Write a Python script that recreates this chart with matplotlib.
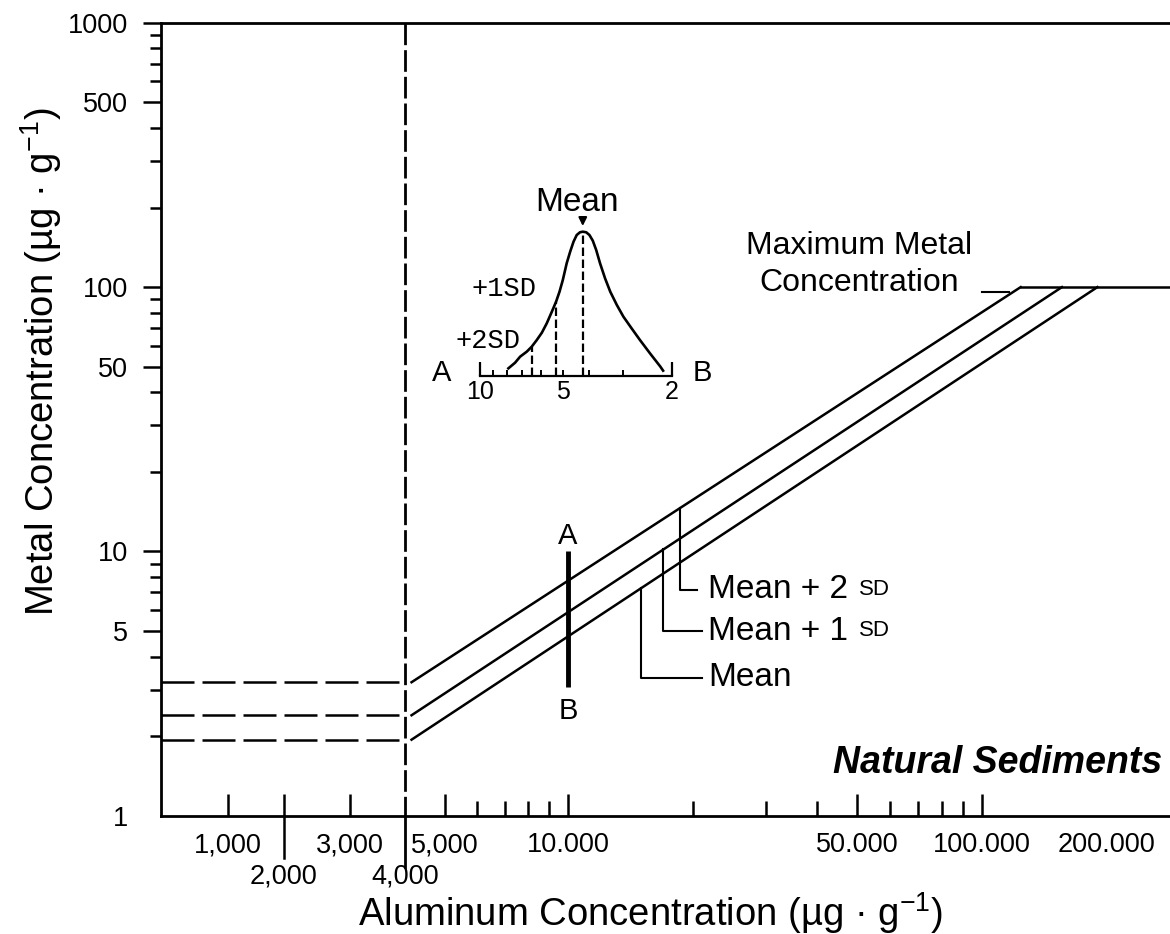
import numpy as np
import matplotlib.pyplot as plt
from matplotlib.ticker import NullFormatter

plt.rcParams['font.family'] = ['Liberation Sans', 'DejaVu Sans']
plt.rcParams['mathtext.fontset'] = 'custom'
plt.rcParams['mathtext.rm'] = 'Liberation Sans'
plt.rcParams['mathtext.it'] = 'Liberation Sans:italic'

# aluminium axis as it is drawn in the figure (log above 4,000, hand spaced below)
AXIS_AL = [100, 1000, 2000, 3000, 4000, 10000, 1000000]
AXIS_POS = [42, 228, 284, 350, 405, 568, 1396]

# tick values / labels
al_major = [1000, 2000, 3000, 4000, 5000, 10000, 50000, 100000, 200000]
al_labels = ['1,000', '2,000', '3,000', '4,000', '5,000', '10.000', '50.000', '100.000', '200.000']
al_minor = [6000, 7000, 8000, 9000, 20000, 30000, 40000, 60000, 70000, 80000, 90000]
metal_major = [1, 5, 10, 50, 100, 500, 1000]
metal_labels = ['1', '5', '10', '50', '100', '500', '1000']
metal_minor = [2, 3, 4, 6, 7, 8, 9, 20, 30, 40, 60, 70, 80, 90, 200, 300, 400, 600, 700, 800, 900]

# regression lines: start at the 4,000 cut-off, end at the maximum metal concentration
mean_al = [4150, 190000]
mean_metal = [1.94, 100]
sd1_al = [4150, 156000]
sd1_metal = [2.4, 100]
sd2_al = [4150, 124000]
sd2_metal = [3.2, 100]

cutoff_al = 4000
background_metal = [1.94, 2.4, 3.2]
ceiling_metal = 100
ceiling_al = [124000, 300000]

# A-B sampling bar
ab_al = 10000
ab_metal = [3.06, 10]

# leader lines for the line labels (+2SD, +1SD, mean)
lead_al = [18650, 16990, 14980]
lead_top = [14.6, 10.2, 7.26]
lead_bottom = [7.17, 4.99, 3.33]
lead_end = [20500, 21040, 21040]
lead_text = ['Mean + 2', 'Mean + 1', 'Mean']
lead_small = ['SD', 'SD', '']
text_al = 21780

# inset distribution (metal values on reversed log axis, relative height)
dist_metal = [7.88, 7.45, 7.14, 6.75, 6.48, 6.21, 5.95, 5.71, 5.47, 5.28, 5.13, 4.99,
              4.83, 4.69, 4.56, 4.44, 4.32, 4.22, 4.10, 3.99, 3.88, 3.77, 3.65, 3.50,
              3.35, 3.17, 3.00, 2.80, 2.61, 2.40, 2.20, 2.15]
dist_height = [0.053, 0.092, 0.134, 0.169, 0.203, 0.249, 0.300, 0.365, 0.446, 0.515, 0.584, 0.665,
               0.781, 0.862, 0.931, 0.977, 0.996, 1.0, 0.996, 0.977, 0.938, 0.873, 0.781, 0.677,
               0.584, 0.492, 0.411, 0.330, 0.249, 0.157, 0.065, 0.037]
dist_mean = 4.22
dist_sd1 = 5.28
dist_sd2 = 6.48
dist_sd1_h = 0.515
dist_sd2_h = 0.203


def al_forward(x):
    return np.interp(np.log10(np.clip(x, 1e-9, None)), np.log10(AXIS_AL), AXIS_POS)


def al_inverse(p):
    return 10 ** np.interp(p, AXIS_POS, np.log10(AXIS_AL))


fig = plt.figure(figsize=(11.7, 9.34), dpi=100)
ax = fig.add_axes([0.1376, 0.1266, 0.8624, 0.849])
ax.set_xscale('function', functions=(al_forward, al_inverse))
ax.set_yscale('log')
x_left = float(al_inverse(161))
ax.set_xlim(x_left, float(al_inverse(1170)))
ax.set_ylim(1, 1000)

ax.spines['right'].set_visible(False)
for s in ['left', 'bottom', 'top']:
    ax.spines[s].set_linewidth(2.0)

ax.set_xticks(al_major, labels=al_labels)
ax.set_xticks(al_minor, minor=True)
ax.xaxis.set_minor_formatter(NullFormatter())
ax.set_yticks(metal_major, labels=metal_labels)
ax.set_yticks(metal_minor, minor=True)
ax.yaxis.set_minor_formatter(NullFormatter())

ax.tick_params(axis='y', which='major', direction='out', length=13, width=1.8, labelsize=19.5, pad=10.5)
ax.tick_params(axis='y', which='minor', direction='out', length=8, width=1.8)
ax.tick_params(axis='x', which='major', direction='in', length=16, width=1.8, labelsize=19.5, pad=12)
ax.tick_params(axis='x', which='minor', direction='in', length=10.5, width=1.8)

lw = 1.8
# regression lines and ceiling
ax.plot(mean_al, mean_metal, color='k', lw=lw)
ax.plot(sd1_al, sd1_metal, color='k', lw=lw)
ax.plot(sd2_al, sd2_metal, color='k', lw=lw)
ax.plot(ceiling_al, [ceiling_metal, ceiling_metal], color='k', lw=lw)

# background levels below the cut-off
for lvl in background_metal:
    ax.plot([x_left, cutoff_al], [lvl, lvl], color='k', lw=lw, ls=(0, (13.2, 3.2)))

# cut-off line
ax.plot([cutoff_al, cutoff_al], [1000, 1], color='k', lw=2.0, ls=(0, (7.8, 1.8)))
ax.plot([cutoff_al, cutoff_al], [0, -0.064], color='k', lw=2.0,
        transform=ax.get_xaxis_transform(), clip_on=False)
ax.plot([2000, 2000], [0, -0.053], color='k', lw=1.8,
        transform=ax.get_xaxis_transform(), clip_on=False)

# A-B bar
ax.plot([ab_al, ab_al], ab_metal, color='k', lw=3.5, solid_capstyle='butt')
ax.text(ab_al, 11.4, 'A', fontsize=21, ha='center', va='center')
ax.text(ab_al, 2.48, 'B', fontsize=21, ha='center', va='center')

# labels with leader lines
for i in range(3):
    ax.plot([lead_al[i], lead_al[i], lead_end[i]], [lead_top[i], lead_bottom[i], lead_bottom[i]],
            color='k', lw=1.5)
    t = ax.text(text_al, lead_bottom[i], lead_text[i], fontsize=24, ha='left', va='center')
    if lead_small[i]:
        ax.annotate(lead_small[i], xy=(1, 0), xycoords=t, xytext=(8, 4),
                    textcoords='offset points', fontsize=16, ha='left', va='bottom')

ax.text(50500, 122, 'Maximum Metal\nConcentration', fontsize=23, ha='center', va='center',
        multialignment='center', linespacing=1.3)
ax.plot([100000, 116000], [96, 96], color='k', lw=1.5)
ax.text(273000, 1.59, 'Natural Sediments', fontsize=27, fontweight='bold', fontstyle='italic',
        ha='right', va='center')

ax.set_xlabel('Aluminum Concentration (µg · g$^{-1}$)', fontsize=27.5, va='center')
ax.xaxis.set_label_coords(0.4854, -0.1225)
ax.set_ylabel('Metal Concentration (µg · g$^{-1}$)', fontsize=27.5, va='center')
ax.yaxis.set_label_coords(-0.119, 0.5725)

# inset distribution
ax_in = fig.add_axes([0.41026, 0.59743, 0.16385, 0.1545])
ax_in.set_facecolor('none')
ax_in.set_xscale('log')
ax_in.set_xlim(10, 2)
ax_in.set_ylim(0, 1)
for s in ['left', 'right', 'top']:
    ax_in.spines[s].set_visible(False)
ax_in.spines['bottom'].set_linewidth(1.6)
ax_in.set_yticks([])
ax_in.set_xticks([10, 2], labels=['10', '2'])
ax_in.set_xticks([9, 8, 7, 6, 5, 4, 3], labels=['', '', '', '', '5', '', ''], minor=True)
ax_in.tick_params(axis='x', which='major', direction='in', length=10, width=1.6, labelsize=18, pad=3)
ax_in.tick_params(axis='x', which='minor', direction='in', length=4.5, width=1.4, labelsize=18, pad=3)

ax_in.plot(dist_metal, dist_height, color='k', lw=1.9, clip_on=False, solid_joinstyle='round')
ax_in.plot([dist_mean, dist_mean], [0, 1], color='k', lw=1.6, ls=(0, (3.8, 1.6)))
ax_in.plot([dist_sd1, dist_sd1], [0, dist_sd1_h], color='k', lw=1.6, ls=(0, (3.8, 1.6)))
ax_in.plot([dist_sd2, dist_sd2], [0, dist_sd2_h], color='k', lw=1.6, ls=(0, (3.8, 1.6)))
ax_in.annotate('', xy=(dist_mean, 1.02), xytext=(dist_mean, 1.12), annotation_clip=False,
               arrowprops=dict(arrowstyle='-|>', color='k', lw=1.5, mutation_scale=12))
ax_in.text(4.43, 1.2, 'Mean', fontsize=24, ha='center', va='center')
ax_in.text(8.17, 0.6, '+1SD', fontsize=19.5, family='Liberation Mono', ha='center', va='center')
ax_in.text(9.35, 0.243, '+2SD', fontsize=19.5, family='Liberation Mono', ha='center', va='center')
ax_in.text(13.8, 0.02, 'A', fontsize=21, ha='center', va='center')
ax_in.text(1.55, 0.02, 'B', fontsize=21, ha='center', va='center')

# tweak individual ticks: hidden marks and second label row
ax.yaxis.get_major_ticks()[0].tick1line.set_visible(False)
xt = ax.xaxis.get_major_ticks()
xt[3].tick1line.set_visible(False)
xt[8].tick1line.set_visible(False)
xt[1].set_pad(34.5)
xt[3].set_pad(34.5)

fig.savefig('out.png', dpi=100)
